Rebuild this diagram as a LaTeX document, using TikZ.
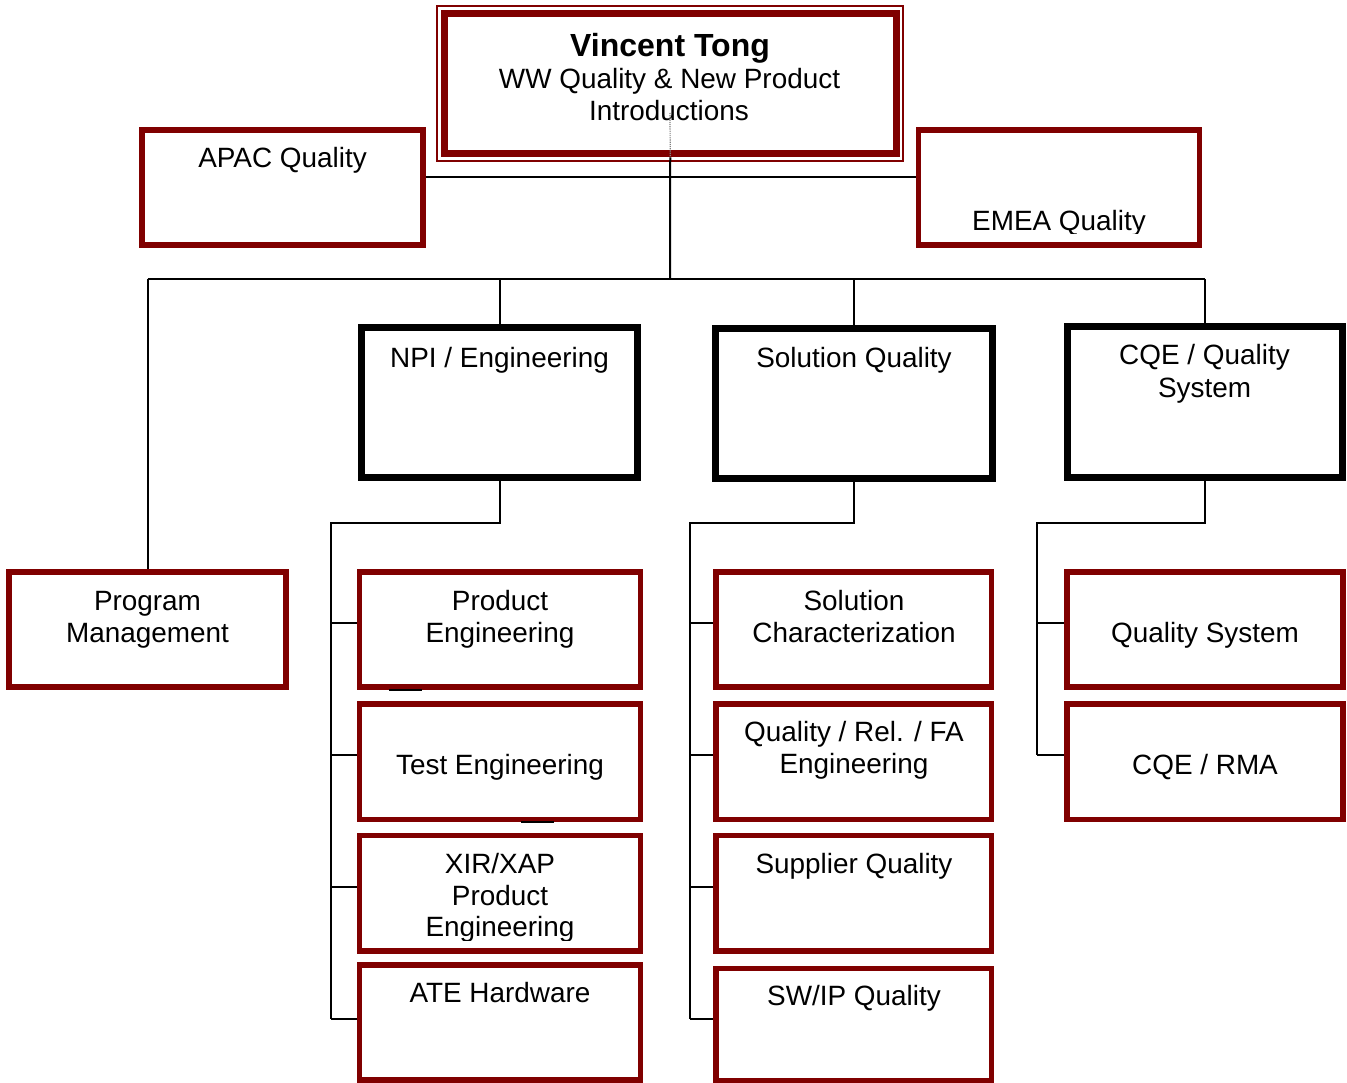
\documentclass[tikz,border=0pt]{standalone}
\usepackage{fontspec}
\setmainfont{Liberation Sans}
\definecolor{maroon}{HTML}{800000}
\begin{document}
\begin{tikzpicture}[x=1pt,y=-1pt,
  redbox/.style={draw=maroon, line width=5.5pt, inner sep=0pt, outer sep=2.75pt, rectangle},
  headbox/.style={draw=black, line width=7pt, inner sep=0pt, outer sep=3.5pt, rectangle},
  wire/.style={draw=black, line width=2pt},
  txt/.style={font=\fontsize{27.9}{32}\selectfont, inner sep=0pt, anchor=base},
  boldtxt/.style={font=\fontsize{32}{36}\selectfont\bfseries, inner sep=0pt, anchor=base}]
\useasboundingbox (0,0) rectangle (1347,1083);

% ---- top box (double frame) ----
\node[draw=maroon, line width=1.5pt, minimum width=466pt, minimum height=155pt, inner sep=0pt] (vtframe) at (670,83.75) {};
\node[draw=maroon, line width=7pt, minimum width=452.5pt, minimum height=140.5pt, inner sep=0pt, outer sep=3.5pt] (vt) at (670.25,83.75) {};
\node[boldtxt] (vtname) at (670,56.5) {Vincent Tong};
\node[txt] (vtrole1) at (669.5,89) {WW Quality \& New Product};
\node[txt] (vtrole2) at (669,121) {Introductions};

% ---- regional boxes ----
\node[redbox, minimum width=281pt, minimum height=115pt] (apac) at (282.5,187.5) {};
\node[txt] (apact) at (282.5,168) {APAC Quality};
\node[redbox, minimum width=281pt, minimum height=115pt] (emea) at (1059,187.5) {};
\begin{scope}
  \clip (920,133) rectangle (1197,233.5);
  \node[txt] (emeat) at (1059,231) {EMEA Quality};
\end{scope}

% ---- second level ----
\node[redbox, minimum width=277pt, minimum height=115pt] (prog) at (147.5,629.5) {};
\node[txt] (progt1) at (147.5,610) {Program};
\node[txt] (progt2) at (147.5,642) {Management};

\node[headbox, minimum width=276pt, minimum height=149pt] (npi) at (499.5,402.5) {};
\node[txt] (npit) at (499.5,367) {NPI / Engineering};
\node[headbox, minimum width=277pt, minimum height=150pt] (solq) at (854,403.5) {};
\node[txt] (solqt) at (854,367) {Solution Quality};
\node[headbox, minimum width=275pt, minimum height=150pt] (cqe) at (1204.5,402) {};
\node[txt] (cqet1) at (1204.5,365) {CQE / Quality};
\node[txt] (cqet2) at (1204.5,397) {System};

% ---- NPI / Engineering column ----
\node[redbox, minimum width=281pt, minimum height=115pt] (pe) at (500,629.5) {};
\node[txt] (pet1) at (500,610) {Product};
\node[txt] (pet2) at (500,642) {Engineering};
\node[redbox, minimum width=281pt, minimum height=115.5pt] (te) at (500,761.75) {};
\node[txt] (tet) at (500,774) {Test Engineering};
\node[redbox, minimum width=281pt, minimum height=115.5pt] (xir) at (500,893.25) {};
\node[txt] (xirt1) at (500,873) {XIR/XAP};
\node[txt] (xirt2) at (500,905) {Product};
\begin{scope}
  \clip (362,840) rectangle (638,940);
  \node[txt] (xirt3) at (500,936.5) {Engineering};
\end{scope}
\node[redbox, minimum width=281pt, minimum height=115pt] (ate) at (500,1022.5) {};
\node[txt] (atet) at (500,1002.5) {ATE Hardware};

% stray marks on the lower edges
\draw[black, line width=2pt] ([xshift=32pt]pe.south west) -- ([xshift=65pt]pe.south west);
\draw[black, line width=2pt] ([xshift=164pt]te.south west) -- ([xshift=197pt]te.south west);

% ---- Solution Quality column ----
\node[redbox, minimum width=275.5pt, minimum height=115pt] (sc) at (853.75,629.5) {};
\node[txt] (sct1) at (854,610) {Solution};
\node[txt] (sct2) at (854,642) {Characterization};
\node[redbox, minimum width=275.5pt, minimum height=115.5pt] (qrf) at (853.75,761.75) {};
\node[txt] (qrft1) at (854,741) {Quality / Rel. / FA};
\node[txt] (qrft2) at (854,773) {Engineering};
\node[redbox, minimum width=275.5pt, minimum height=115.5pt] (sup) at (853.75,893.25) {};
\node[txt] (supt) at (854,873) {Supplier Quality};
\node[redbox, minimum width=275.5pt, minimum height=112pt] (swip) at (853.75,1024.5) {};
\node[txt] (swipt) at (854,1005.5) {SW/IP Quality};

% ---- CQE / Quality System column ----
\node[redbox, minimum width=276pt, minimum height=115pt] (qs) at (1205,629.5) {};
\node[txt] (qst) at (1205,642) {Quality System};
\node[redbox, minimum width=276pt, minimum height=115.5pt] (rma) at (1205,761.75) {};
\node[txt] (rmat) at (1205,774) {CQE / RMA};

% ---- connectors ----
\coordinate (dotTop) at (670,113);
\coordinate (mid) at (670,177);
\coordinate (bus) at (670,279);
\draw[gray, densely dotted, line width=1.2pt] (dotTop) -- (vt.south);
\draw[wire] (vt.south) -- (bus);
\draw[wire] (apac.east |- mid) -- (emea.west |- mid);
\draw[wire] (prog.north |- bus) -- (cqe.north |- bus);
\draw[wire] (prog.north |- bus) -- (prog.north);
\draw[wire] (npi.north |- bus) -- (npi.north);
\draw[wire] (solq.north |- bus) -- (solq.north);
\draw[wire] (cqe.north |- bus) -- (cqe.north);

\coordinate (s1) at (331,522.5);
\coordinate (s2) at (690,522.5);
\coordinate (s3) at (1037,522.5);
\coordinate (k1) at (0,623);
\coordinate (k2) at (0,755);
\coordinate (k3) at (0,887);
\coordinate (k4) at (0,1019);

\draw[wire] (npi.south) |- (s1) -- (s1 |- k4);
\draw[wire] (s1 |- k1) -- (pe.west |- k1);
\draw[wire] (s1 |- k2) -- (te.west |- k2);
\draw[wire] (s1 |- k3) -- (xir.west |- k3);
\draw[wire] (s1 |- k4) -- (ate.west |- k4);

\draw[wire] (solq.south) |- (s2) -- (s2 |- k4);
\draw[wire] (s2 |- k1) -- (sc.west |- k1);
\draw[wire] (s2 |- k2) -- (qrf.west |- k2);
\draw[wire] (s2 |- k3) -- (sup.west |- k3);
\draw[wire] (s2 |- k4) -- (swip.west |- k4);

\draw[wire] (cqe.south) |- (s3) -- (s3 |- k2);
\draw[wire] (s3 |- k1) -- (qs.west |- k1);
\draw[wire] (s3 |- k2) -- (rma.west |- k2);
\end{tikzpicture}
\end{document}
